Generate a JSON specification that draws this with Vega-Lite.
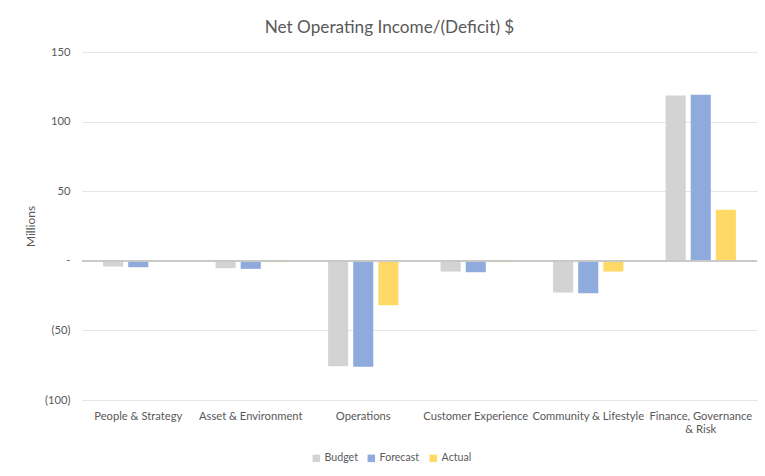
{
  "$schema": "https://vega.github.io/schema/vega-lite/v6.json",
  "autosize": "none",
  "width": 675,
  "height": 348,
  "padding": {"left": 82, "top": 52, "right": 8, "bottom": 76},
  "background": "white",
  "title": {"text": "Net Operating Income/(Deficit) $", "font": "Lato", "fontSize": 17.2, "fontWeight": "normal", "color": "#595959", "anchor": "middle", "offset": 10, "dx": -30},
  "config": {
    "view": {"stroke": null},
    "axis": {"labelFont": "Lato", "titleFont": "Lato", "labelColor": "#595959", "titleColor": "#595959", "labelFontSize": 11.2, "titleFontSize": 12, "titleFontWeight": "normal"},
    "legend": {"labelFont": "Lato", "labelColor": "#595959", "labelFontSize": 10.6}
  },
  "data": {"values": [
    {"category": "People & Strategy", "series": "Budget", "value": -4.1},
    {"category": "People & Strategy", "series": "Forecast", "value": -4.6},
    {"category": "People & Strategy", "series": "Actual", "value": 0},
    {"category": "Asset & Environment", "series": "Budget", "value": -5.3},
    {"category": "Asset & Environment", "series": "Forecast", "value": -5.8},
    {"category": "Asset & Environment", "series": "Actual", "value": -1.0},
    {"category": "Operations", "series": "Budget", "value": -75.7},
    {"category": "Operations", "series": "Forecast", "value": -76.2},
    {"category": "Operations", "series": "Actual", "value": -32.0},
    {"category": "Customer Experience", "series": "Budget", "value": -7.7},
    {"category": "Customer Experience", "series": "Forecast", "value": -8.2},
    {"category": "Customer Experience", "series": "Actual", "value": -1.0},
    {"category": "Community & Lifestyle", "series": "Budget", "value": -22.8},
    {"category": "Community & Lifestyle", "series": "Forecast", "value": -23.3},
    {"category": "Community & Lifestyle", "series": "Actual", "value": -7.7},
    {"category": "Finance, Governance & Risk", "series": "Budget", "value": 118.8},
    {"category": "Finance, Governance & Risk", "series": "Forecast", "value": 119.2},
    {"category": "Finance, Governance & Risk", "series": "Actual", "value": 36.6}
  ]},
  "layer": [
    {
      "mark": {"type": "bar"},
      "encoding": {
        "x": {"field": "category", "type": "nominal", "sort": ["People & Strategy", "Asset & Environment", "Operations", "Customer Experience", "Community & Lifestyle", "Finance, Governance & Risk"],
          "scale": {"paddingInner": 0.375, "paddingOuter": 0.1875},
          "axis": {"title": null, "labelAngle": 0, "domain": false, "ticks": false, "labelPadding": 10, "labelLimit": 200,
            "labelExpr": "datum.label == 'Finance, Governance & Risk' ? ['Finance, Governance', '& Risk'] : datum.label"}},
        "xOffset": {"field": "series", "type": "nominal", "sort": ["Budget", "Forecast", "Actual"], "scale": {"paddingInner": 0.2, "paddingOuter": 0}},
        "y": {"field": "value", "type": "quantitative", "scale": {"domain": [-100, 150], "nice": false},
          "axis": {"title": "Millions", "values": [-100, -50, 0, 50, 100, 150], "domain": false, "ticks": false, "labelPadding": 12, "titlePadding": 7, "gridColor": "#e6e6e6",
            "labelExpr": "datum.value == 0 ? '-' : (datum.value < 0 ? '(' + (-datum.value) + ')' : '' + datum.value)"}},
        "color": {"field": "series", "type": "nominal", "sort": ["Budget", "Forecast", "Actual"],
          "scale": {"domain": ["Budget", "Forecast", "Actual"], "range": ["#d3d3d3", "#8faadc", "#ffd966"]},
          "legend": {"title": null, "orient": "none", "legendX": 229, "legendY": 401, "direction": "horizontal", "symbolType": "square", "symbolSize": 56, "labelOffset": 3, "columnPadding": 8}}
      }
    },
    {
      "mark": {"type": "rule", "color": "#c8c8c8", "strokeWidth": 1},
      "encoding": {"y": {"datum": 0}}
    }
  ]
}
